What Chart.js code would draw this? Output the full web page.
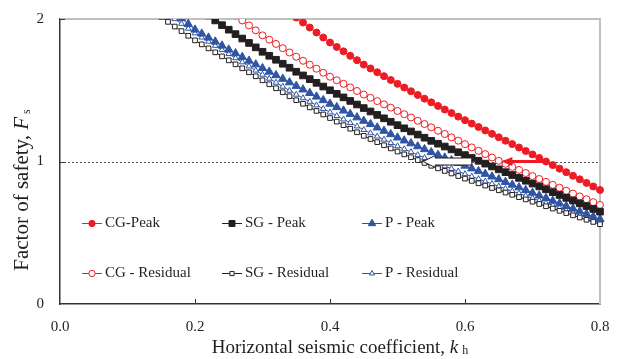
<!DOCTYPE html>
<html>
<head>
<meta charset="utf-8">
<script src="https://cdn.jsdelivr.net/npm/chart.js@4.4.1/dist/chart.umd.min.js"></script>
<style>
  html, body { margin: 0; padding: 0; background: #fff; }
  #wrap { width: 618px; height: 359px; }
</style>
</head>
<body>
<div id="wrap"><canvas id="chart01" width="618" height="359"></canvas></div>
<script>
// horizontal seismic coefficient, one marker every 0.01 (all series end at 0.80)
var kh = [
  0.15, 0.16, 0.17, 0.18, 0.19, 0.20, 0.21, 0.22, 0.23, 0.24,
  0.25, 0.26, 0.27, 0.28, 0.29, 0.30, 0.31, 0.32, 0.33, 0.34,
  0.35, 0.36, 0.37, 0.38, 0.39, 0.40, 0.41, 0.42, 0.43, 0.44,
  0.45, 0.46, 0.47, 0.48, 0.49, 0.50, 0.51, 0.52, 0.53, 0.54,
  0.55, 0.56, 0.57, 0.58, 0.59, 0.60, 0.61, 0.62, 0.63, 0.64,
  0.65, 0.66, 0.67, 0.68, 0.69, 0.70, 0.71, 0.72, 0.73, 0.74,
  0.75, 0.76, 0.77, 0.78, 0.79, 0.80
];

// factor of safety (from first visible kh up to 0.80)
var cgPeak = [ // 0.35 ->
  2.010, 1.975, 1.940, 1.905, 1.870, 1.835, 1.804, 1.773, 1.742, 1.711,
  1.680, 1.653, 1.626, 1.599, 1.572, 1.545, 1.519, 1.493, 1.467, 1.441,
  1.415, 1.390, 1.365, 1.340, 1.315, 1.290, 1.266, 1.242, 1.218, 1.194,
  1.170, 1.146, 1.122, 1.098, 1.074, 1.050, 1.025, 1.000, 0.975, 0.950,
  0.925, 0.900, 0.875, 0.850, 0.825, 0.800
];
var sgPeak = [ // 0.22 ->
  2.025, 1.990, 1.957,
  1.925, 1.894, 1.863, 1.832, 1.801, 1.770, 1.742, 1.714, 1.686, 1.658,
  1.630, 1.604, 1.578, 1.552, 1.526, 1.500, 1.475, 1.450, 1.425, 1.400,
  1.375, 1.351, 1.327, 1.303, 1.279, 1.255, 1.233, 1.211, 1.189, 1.167,
  1.145, 1.125, 1.105, 1.085, 1.065, 1.045, 1.025, 1.005, 0.985, 0.965,
  0.945, 0.925, 0.905, 0.885, 0.865, 0.845, 0.825, 0.805, 0.785, 0.765,
  0.745, 0.726, 0.706, 0.687, 0.667, 0.648
];
var pPeak = [ // 0.18 ->
  2.005, 1.965, 1.925, 1.897, 1.869, 1.841, 1.813,
  1.785, 1.759, 1.733, 1.707, 1.681, 1.655, 1.630, 1.605, 1.580, 1.555,
  1.530, 1.505, 1.480, 1.455, 1.430, 1.405, 1.381, 1.357, 1.333, 1.309,
  1.285, 1.262, 1.238, 1.215, 1.191, 1.168, 1.147, 1.127, 1.106, 1.086,
  1.065, 1.046, 1.027, 1.008, 0.989, 0.970, 0.951, 0.932, 0.913, 0.894,
  0.875, 0.856, 0.837, 0.818, 0.799, 0.780, 0.761, 0.743, 0.724, 0.706,
  0.687, 0.669, 0.650, 0.632, 0.613, 0.595
];
var cgRes = [ // 0.26 ->
  2.025, 1.990, 1.955, 1.920, 1.885, 1.855, 1.825, 1.795, 1.765,
  1.735, 1.707, 1.679, 1.651, 1.623, 1.595, 1.570, 1.545, 1.520, 1.495,
  1.470, 1.447, 1.424, 1.401, 1.378, 1.355, 1.332, 1.309, 1.286, 1.263,
  1.240, 1.216, 1.193, 1.169, 1.146, 1.122, 1.099, 1.075, 1.052, 1.028,
  1.005, 0.984, 0.962, 0.941, 0.919, 0.898, 0.877, 0.857, 0.836, 0.816,
  0.795, 0.775, 0.755, 0.735, 0.715, 0.695
];
var sgRes = [ // 0.15 ->
  2.015, 1.980, 1.947, 1.915, 1.882, 1.850, 1.822, 1.794, 1.766, 1.738,
  1.710, 1.682, 1.654, 1.626, 1.598, 1.570, 1.542, 1.514, 1.486, 1.458,
  1.430, 1.405, 1.380, 1.355, 1.330, 1.305, 1.280, 1.255, 1.230, 1.205,
  1.180, 1.158, 1.136, 1.114, 1.092, 1.070, 1.050, 1.030, 1.010, 0.990,
  0.970, 0.952, 0.934, 0.916, 0.898, 0.880, 0.864, 0.847, 0.831, 0.814,
  0.798, 0.782, 0.766, 0.750, 0.734, 0.718, 0.702, 0.686, 0.670, 0.654,
  0.638, 0.622, 0.607, 0.591, 0.576, 0.560
];
var pRes = [ // 0.16 ->
  2.035, 2.000, 1.967, 1.933, 1.900, 1.871, 1.842, 1.813, 1.784,
  1.755, 1.726, 1.697, 1.668, 1.639, 1.610, 1.582, 1.554, 1.526, 1.498,
  1.470, 1.445, 1.420, 1.395, 1.370, 1.345, 1.320, 1.296, 1.271, 1.247,
  1.222, 1.199, 1.176, 1.154, 1.131, 1.108, 1.087, 1.067, 1.046, 1.026,
  1.005, 0.986, 0.968, 0.949, 0.931, 0.912, 0.895, 0.878, 0.860, 0.843,
  0.826, 0.809, 0.792, 0.776, 0.759, 0.742, 0.725, 0.708, 0.692, 0.675,
  0.658, 0.642, 0.626, 0.610, 0.594, 0.578
];

var xTicks = [0.0, 0.2, 0.4, 0.6, 0.8];
var yTicks = [0, 1, 2];
var refFs = 1;
var redArrow = [0.721, 0.654];   // kh from -> to, at Fs = 1
var whiteArrow = [0.610, 0.538];

var RED = '#ed1c24', BLK = '#231f20', BLUE = '#2f55a4';
var FONT = "'Liberation Serif', 'Times New Roman', serif";

function toPoints(vals) {
  var off = kh.length - vals.length;
  return vals.map(function(v, i) { return { x: kh[off + i], y: v }; });
}

function ds(label, vals, color, style, r, fill) {
  return {
    label: label,
    data: toPoints(vals),
    borderColor: color,
    borderWidth: 1,
    pointStyle: style,
    pointRadius: r,
    pointBackgroundColor: fill,
    pointBorderColor: color,
    pointBorderWidth: 1,
    tension: 0,
    fill: false,
    clip: { left: 0, top: 0, right: 6, bottom: 0 }
  };
}

var datasets = [
  ds('CG-Peak', cgPeak, RED, 'circle', 3.5, RED),
  ds('SG - Peak', sgPeak, BLK, 'rect', 4.7, BLK),
  ds('P - Peak', pPeak, BLUE, 'triangle', 4.8, BLUE),
  ds('CG - Residual', cgRes, RED, 'circle', 3.5, '#fff'),
  ds('SG - Residual', sgRes, BLK, 'rect', 3.3, '#fff'),
  ds('P - Residual', pRes, BLUE, 'triangle', 3.3, '#fff')
];

// legend slots (2 rows x 3 columns inside the plot)
var legendCols = [82, 222, 362];
var legendRows = [223, 273];

var extras = {
  id: 'extras',
  beforeDatasetsDraw: function(chart) {
    var ctx = chart.ctx, a = chart.chartArea, sx = chart.scales.x, sy = chart.scales.y;
    ctx.save();
    // grey frame on top and right
    ctx.strokeStyle = '#c0c0c0';
    ctx.lineWidth = 2;
    ctx.beginPath();
    ctx.moveTo(a.left, a.top);
    ctx.lineTo(a.right, a.top);
    ctx.lineTo(a.right, a.bottom);
    ctx.stroke();
    // dotted line Fs = 1
    var yy = Math.round(sy.getPixelForValue(refFs)) + 0.5;
    ctx.strokeStyle = '#555';
    ctx.lineWidth = 1;
    ctx.setLineDash([2, 2]);
    ctx.beginPath();
    ctx.moveTo(a.left, yy);
    ctx.lineTo(a.right, yy);
    ctx.stroke();
    ctx.setLineDash([]);
    // tick marks pointing inwards
    ctx.strokeStyle = '#333';
    xTicks.forEach(function(v) {
      if (v <= 0 || v >= 0.8) return;
      var px = Math.round(sx.getPixelForValue(v)) + 0.5;
      ctx.beginPath(); ctx.moveTo(px, a.bottom); ctx.lineTo(px, a.bottom - 5); ctx.stroke();
    });
    yTicks.forEach(function(v) {
      if (v <= 0) return;
      var py = Math.round(sy.getPixelForValue(v)) + 0.5;
      ctx.beginPath(); ctx.moveTo(a.left, py); ctx.lineTo(a.left + 5, py); ctx.stroke();
    });
    ctx.restore();
  },
  afterDraw: function(chart) {
    var ctx = chart.ctx, a = chart.chartArea, sx = chart.scales.x, sy = chart.scales.y;
    var yy = sy.getPixelForValue(refFs);
    ctx.save();

    // red arrow: CG peak -> CG residual
    var r0 = sx.getPixelForValue(redArrow[0]), r1 = sx.getPixelForValue(redArrow[1]);
    ctx.strokeStyle = RED; ctx.fillStyle = RED; ctx.lineWidth = 3;
    ctx.beginPath(); ctx.moveTo(r0, yy); ctx.lineTo(r1 + 8, yy); ctx.stroke();
    ctx.beginPath(); ctx.moveTo(r1, yy); ctx.lineTo(r1 + 11, yy - 4.5); ctx.lineTo(r1 + 11, yy + 4.5); ctx.closePath(); ctx.fill();

    // white block arrow: SG peak -> SG residual
    var w0 = sx.getPixelForValue(whiteArrow[0]), w1 = sx.getPixelForValue(whiteArrow[1]);
    ctx.fillStyle = '#fff'; ctx.strokeStyle = BLK; ctx.lineWidth = 1;
    ctx.beginPath();
    ctx.moveTo(w1, yy);
    ctx.lineTo(w1 + 12, yy - 6);
    ctx.lineTo(w1 + 12, yy - 3.5);
    ctx.lineTo(w0, yy - 3.5);
    ctx.lineTo(w0, yy + 3.5);
    ctx.lineTo(w1 + 12, yy + 3.5);
    ctx.lineTo(w1 + 12, yy + 6);
    ctx.closePath();
    ctx.fill(); ctx.stroke();

    // legend
    ctx.font = '15px ' + FONT;
    ctx.textBaseline = 'middle';
    ctx.textAlign = 'left';
    chart.data.datasets.forEach(function(d, i) {
      var lx = legendCols[i % 3], ly = legendRows[Math.floor(i / 3)];
      ctx.strokeStyle = d.borderColor; ctx.lineWidth = 1;
      ctx.beginPath(); ctx.moveTo(lx, ly + 0.5); ctx.lineTo(lx + 20, ly + 0.5); ctx.stroke();
      ctx.fillStyle = d.pointBackgroundColor; ctx.strokeStyle = d.pointBorderColor;
      Chart.helpers.drawPoint(ctx, { pointStyle: d.pointStyle, radius: d.pointRadius * 0.9, rotation: 0, borderWidth: 1 }, lx + 10, ly + 0.5);
      ctx.fillStyle = BLK;
      ctx.fillText(d.label, lx + 23, ly + 0.5);
    });

    // x axis title: Horizontal seismic coefficient, k h
    ctx.fillStyle = BLK;
    ctx.textBaseline = 'alphabetic';
    var f1 = '19px ' + FONT, f2 = 'italic 19px ' + FONT, f3 = '12px ' + FONT;
    ctx.font = f1; var t1 = 'Horizontal seismic coefficient, ', w1a = ctx.measureText(t1).width;
    ctx.font = f2; var w2a = ctx.measureText('k').width;
    ctx.font = f3; var w3a = ctx.measureText('h').width;
    var tot = w1a + w2a + 4 + w3a;
    var tx = (a.left + a.right) / 2 + 10 - tot / 2, ty = 353;
    ctx.font = f1; ctx.fillText(t1, tx, ty);
    ctx.font = f2; ctx.fillText('k', tx + w1a, ty);
    ctx.font = f3; ctx.fillText('h', tx + w1a + w2a + 4, ty + 1);

    // y axis title: Factor of safety, F s
    ctx.save();
    ctx.translate(28, 190);
    ctx.rotate(-Math.PI / 2);
    var g1 = '21px ' + FONT, g2 = 'italic 21px ' + FONT;
    ctx.font = g1; var s1 = 'Factor of safety, ', v1 = ctx.measureText(s1).width;
    ctx.font = g2; var v2 = ctx.measureText('F').width;
    ctx.font = f3; var v3 = ctx.measureText('s').width;
    var tt = v1 + v2 + 3 + v3, bx = -tt / 2;
    ctx.font = g1; ctx.fillText(s1, bx, 0);
    ctx.font = g2; ctx.fillText('F', bx + v1, 0);
    ctx.font = f3; ctx.fillText('s', bx + v1 + v2 + 3, 2);
    ctx.restore();

    ctx.restore();
  }
};

var ctx = document.getElementById('chart01');
var chart = new Chart(ctx, {
  type: 'line',
  data: { datasets: datasets },
  options: {
    responsive: false,
    animation: false,
    layout: { autoPadding: false, padding: { top: 19, right: 18, left: 0, bottom: 0 } },
    plugins: {
      legend: { display: false },
      tooltip: { enabled: false }
    },
    scales: {
      x: {
        type: 'linear',
        min: 0,
        max: 0.8,
        afterBuildTicks: function(axis) { axis.ticks = xTicks.map(function(v) { return { value: v }; }); },
        afterFit: function(axis) { axis.height = 55; },
        grid: { display: false },
        border: { display: true, color: '#333', width: 1.5 },
        ticks: {
          padding: 6,
          color: BLK,
          font: { family: FONT, size: 15 },
          callback: function(v) { return Number(v).toFixed(1); }
        }
      },
      y: {
        type: 'linear',
        min: 0,
        max: 2,
        afterBuildTicks: function(axis) { axis.ticks = yTicks.map(function(v) { return { value: v }; }); },
        afterFit: function(axis) { axis.width = 60; },
        grid: { display: false },
        border: { display: true, color: '#333', width: 1.5 },
        ticks: {
          padding: 8,
          color: BLK,
          font: { family: FONT, size: 15 },
          callback: function(v) { return String(v); }
        }
      }
    }
  },
  plugins: [extras]
});
</script>
</body>
</html>
